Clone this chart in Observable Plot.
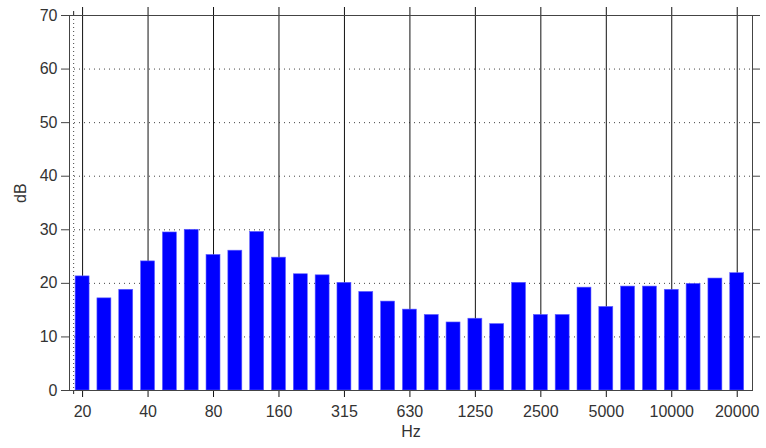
<!DOCTYPE html>
<html>
<head>
<meta charset="utf-8">
<script src="https://cdn.jsdelivr.net/npm/d3@7"></script>
<script src="https://cdn.jsdelivr.net/npm/@observablehq/plot@0.6"></script>
<style>
  html, body { margin: 0; padding: 0; background: #fff; }
</style>
</head>
<body>
<div id="chart"></div>
<script>
// 1/3-octave band centre frequencies (Hz)
const bands = ["20","25","31.5","40","50","63","80","100","125","160","200","250","315","400","500","630","800","1000","1250","1600","2000","2500","3150","4000","5000","6300","8000","10000","12500","16000","20000"];
// level per band (dB)
const levels = [21.3,17.2,18.8,24.1,29.5,30.0,25.3,26.1,29.6,24.8,21.7,21.5,20.1,18.4,16.6,15.1,14.1,12.7,13.4,12.4,20.1,14.1,14.1,19.2,15.6,19.4,19.4,18.8,19.9,20.9,21.9];
// labelled x ticks
const xTickLabels = ["20","40","80","160","315","630","1250","2500","5000","10000","20000"];
// y ticks
const yTicks = [0,10,20,30,40,50,60,70];
const yGrid = [10,20,30,40,50,60];
// extra dotted x grid line (band-index units)
const xMinorGrid = [-0.41];

const data = bands.map((b, i) => ({i, band: b, level: levels[i]}));
const xTickIdx = xTickLabels.map(l => bands.indexOf(l));

const ink = "#333";
const chart = Plot.plot({
  width: 766,
  height: 448,
  marginLeft: 69,
  marginRight: 14,
  marginTop: 15,
  marginBottom: 58,
  style: {fontFamily: "'Liberation Sans', Arial, sans-serif", fontSize: "16px", background: "#fff", color: ink},
  x: {type: "linear", domain: [-0.6, 30.7], axis: null},
  y: {domain: [0, 70], axis: null},
  marks: [
    Plot.ruleY(yGrid, {stroke: "#444", strokeDasharray: "1,4"}),
    Plot.ruleX(xMinorGrid, {y1: 70, y2: 0, stroke: "#444", strokeDasharray: "1,3"}),
    Plot.ruleX(xMinorGrid, {y1: 70, y2: 70, insetTop: -4, stroke: "#222"}),
    Plot.ruleX(xMinorGrid, {y1: 0, y2: 0, insetBottom: -4, stroke: "#222"}),
    Plot.ruleX(xTickIdx, {y1: 70, y2: 0, insetTop: -8, insetBottom: -7, stroke: "#111"}),
    Plot.rectY(data, {x1: d => d.i - 0.32, x2: d => d.i + 0.32, y: "level", fill: "#0000ff", stroke: "#6060ff", strokeWidth: 0.6}),
    Plot.frame({stroke: "#444"}),
    Plot.axisY(yTicks, {anchor: "left", tickSize: 8, tickPadding: 4, fontSize: 16, label: null, stroke: "#444", fill: ink}),
    Plot.axisY(yGrid.concat([70]), {anchor: "right", tickSize: 7, tickFormat: () => "", label: null, stroke: "#444"}),
    Plot.axisX(xTickIdx, {anchor: "bottom", tickSize: 0, tickPadding: 15, tickFormat: i => bands[i], fontSize: 16, label: null, fill: ink}),
    Plot.text(["dB"], {text: d => d, frameAnchor: "left", dx: -49, rotate: -90, fontSize: 16, fill: ink}),
    Plot.text(["Hz"], {text: d => d, frameAnchor: "bottom", dy: 46, fontSize: 16, fill: ink})
  ]
});
document.getElementById("chart").appendChild(chart);
</script>
</body>
</html>
